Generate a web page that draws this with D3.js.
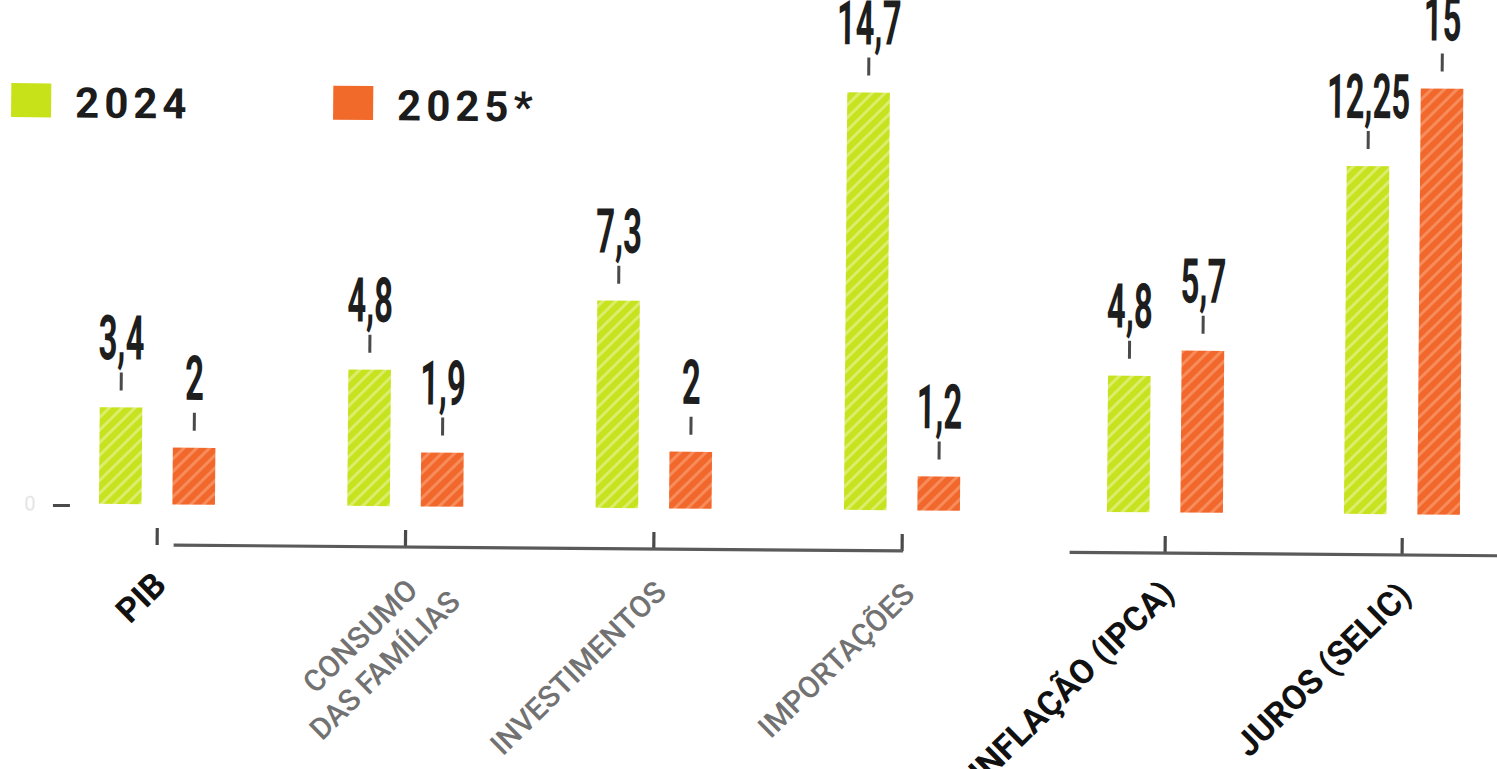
<!DOCTYPE html>
<html><head><meta charset="utf-8">
<script src="https://cdn.jsdelivr.net/npm/d3@7"></script>
<style>html,body{margin:0;padding:0;background:#fff;} svg{display:block;}</style>
</head><body><svg id="chart" width="1497" height="769"></svg>
<script>
// ---- data ----
const categoriesLeft = ["PIB", "CONSUMO\nDAS FAMÍLIAS", "INVESTIMENTOS", "IMPORTAÇÕES"];
const categoriesRight = ["INFLAÇÃO (IPCA)", "JUROS (SELIC)"];
const seriesNames = ["2024", "2025*"];
const values2024 = [3.4, 4.8, 7.3, 14.7, 4.8, 12.25];
const values2025 = [2, 1.9, 2, 1.2, 5.7, 15];
const zeroTick = [0];

// ---- setup ----
const W = 1497, H = 769;
const svg = d3.select("#chart");
const defs = svg.append("defs");
const palette = {
  "2024": {base: "#c7e21e", stripe: "#dbed6a", solid: "#c8e21a"},
  "2025*": {base: "#f2672b", stripe: "#f78c5b", solid: "#f26a2a"}
};
seriesNames.forEach((s, i) => {
  const p = defs.append("pattern").attr("id", "hatch" + i)
    .attr("patternUnits", "userSpaceOnUse").attr("width", 9).attr("height", 9)
    .attr("patternTransform", "rotate(45)");
  p.append("rect").attr("width", 9).attr("height", 9).attr("fill", palette[s].base);
  p.append("rect").attr("width", 3).attr("height", 9).attr("fill", palette[s].stripe);
});

const g = svg.append("g").attr("transform", "rotate(0.46)");

const allCats = categoriesLeft.concat(categoriesRight);
const rows = allCats.map((c, i) => ({cat: c, vals: [values2024[i], values2025[i]]}));

const y = d3.scaleLinear().domain([0, 15]).range([503, 77]);
const xLeft = d3.scalePoint().domain(categoriesLeft).range([161, 906]);
const xRight = d3.scalePoint().domain(categoriesRight).range([1169, 1406]);
const xInner = d3.scaleBand().domain(seriesNames).range([-58, 58]).paddingInner(0.42);
const xOf = c => categoriesLeft.includes(c) ? xLeft(c) : xRight(c);

const locale = d3.formatLocale({decimal: ",", thousands: ".", grouping: [3], currency: ["R$", ""]});
const fmt = locale.format("~g");

const axisY = 543.7;
const ink = "#4a4a4a";

// ---- legend ----
const legend = g.append("g");
seriesNames.forEach((s, i) => {
  const lx = [12, 334][i];
  legend.append("rect").attr("x", lx).attr("y", 83).attr("width", 40).attr("height", 34)
    .attr("fill", palette[s].solid);
  legend.append("text").attr("x", lx + 64).attr("y", 117)
    .attr("font-family", "Roboto, 'DejaVu Sans', sans-serif").attr("font-weight", 700)
    .attr("font-size", 42).attr("letter-spacing", 5).attr("fill", "#1c1c1c").text(s);
});

// ---- zero marker ----
zeroTick.forEach(v => {
  g.append("text").attr("x", 34).attr("y", y(v) + 7).attr("text-anchor", "middle")
    .attr("font-family", "Roboto, sans-serif").attr("font-size", 20).attr("fill", "#e4e4e4").text(v);
  g.append("line").attr("x1", 57).attr("x2", 74).attr("y1", y(v) + 2).attr("y2", y(v) + 2)
    .attr("stroke", ink).attr("stroke-width", 3);
});

// ---- bars ----
const groups = g.selectAll("g.cat").data(rows).join("g").attr("class", "cat")
  .attr("transform", d => `translate(${xOf(d.cat)},0)`);
groups.each(function(d) {
  const gg = d3.select(this);
  seriesNames.forEach((s, i) => {
    const v = d.vals[i];
    const bx = xInner(s), bw = xInner.bandwidth();
    const cx = bx + bw / 2;
    gg.append("rect").attr("x", bx).attr("width", bw)
      .attr("y", y(v)).attr("height", y(0) - y(v))
      .attr("fill", `url(#hatch${i})`);
    gg.append("line").attr("x1", cx).attr("x2", cx)
      .attr("y1", y(v) - 35).attr("y2", y(v) - 17)
      .attr("stroke", ink).attr("stroke-width", 3);
    gg.append("text")
      .attr("transform", `translate(${cx},${y(v) - 48}) scale(0.53,1)`)
      .attr("text-anchor", "middle")
      .attr("font-family", "Roboto, 'DejaVu Sans', sans-serif").attr("font-weight", 700)
      .attr("font-size", 62).attr("fill", "#1e1e1e").text(fmt(v));
  });
});

// ---- axes ----
function drawAxis(scale, lineFrom, lineTo) {
  const ax = g.append("g").attr("transform", `translate(0,${axisY})`)
    .call(d3.axisBottom(scale).tickSizeInner(-17).tickSizeOuter(0).tickFormat(""));
  ax.select(".domain").remove();
  ax.selectAll(".tick line").attr("stroke", ink).attr("stroke-width", 3.2);
  ax.append("line").attr("x1", lineFrom).attr("x2", lineTo).attr("y1", 0).attr("y2", 0)
    .attr("stroke", "#5a5a5a").attr("stroke-width", 3.2);
  return ax;
}
drawAxis(xLeft, xLeft(categoriesLeft[0]) + 17, xLeft(categoriesLeft[categoriesLeft.length - 1]) + 1.5);
drawAxis(xRight, xRight(categoriesRight[0]) - 95, W + 30);

// ---- category labels ----
const boldCats = new Set(["PIB", "INFLAÇÃO (IPCA)", "JUROS (SELIC)"]);
allCats.forEach(c => {
  const bold = boldCats.has(c);
  const ax = xOf(c) + (bold ? 12 : 15), ay = axisY + (bold ? 42 : 45);
  c.split("\n").forEach((line, i) => {
    g.append("text")
      .attr("transform", `translate(${ax},${ay}) rotate(-45) translate(${i * 22},${i * 38})`)
      .attr("text-anchor", "end")
      .attr("font-family", "Roboto, 'DejaVu Sans', sans-serif")
      .attr("font-weight", bold ? 700 : 500)
      .attr("font-size", bold ? 34 : 30)
      .attr("fill", bold ? "#111" : "#727272")
      .text(line);
  });
});
</script>
</body></html>
